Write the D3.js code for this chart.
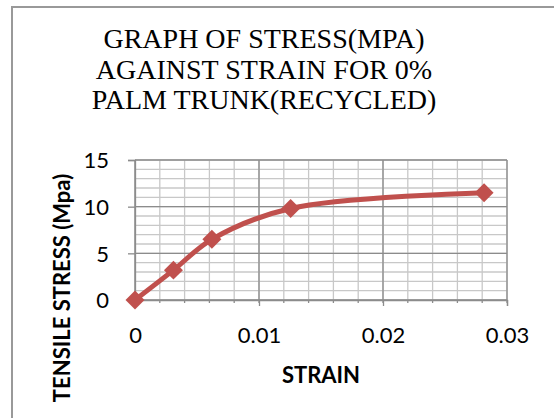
<!DOCTYPE html>
<html>
<head>
<meta charset="utf-8">
<script src="https://cdn.jsdelivr.net/npm/d3@7"></script>
<style>
  body { margin: 0; background: #fff; }
  svg { display: block; }
</style>
</head>
<body>
<svg width="554" height="418"></svg>
<script>
// values
const strain = [0, 0.0031, 0.0062, 0.01255, 0.02815];
const stress = [0, 3.2, 6.5, 9.8, 11.5];
const xTicks = [0, 0.01, 0.02, 0.03];
const yTicks = [0, 5, 10, 15];
const titleLines = ["GRAPH OF STRESS(MPA)", "AGAINST STRAIN FOR 0%", "PALM TRUNK(RECYCLED)"];

const svg = d3.select("svg");
const red = "#c0504d";

// outer chart border (runs off the right/bottom edge)
svg.append("rect")
    .attr("x", 12).attr("y", 7)
    .attr("width", 600).attr("height", 500)
    .attr("fill", "none")
    .attr("stroke", "#999")
    .attr("stroke-width", 2);

// title
svg.append("g").selectAll("text")
    .data(titleLines)
    .join("text")
    .attr("x", 264)
    .attr("y", (d, i) => 48 + i * 30.5)
    .attr("text-anchor", "middle")
    .style("font-family", "'Liberation Serif', 'Times New Roman', serif")
    .style("font-size", "28px")
    .attr("fill", "#000")
    .text(d => d);

// scales
const x = d3.scaleLinear().domain([0, 0.03]).range([135, 507]);
const y = d3.scaleLinear().domain([0, 15]).range([300, 160]);

// minor grid
const grid = svg.append("g");
grid.selectAll("line.vminor")
    .data(d3.range(0, 0.0301, 0.002))
    .join("line")
    .attr("x1", d => x(d)).attr("x2", d => x(d))
    .attr("y1", y(0)).attr("y2", y(15))
    .attr("stroke", "#c8c8c8").attr("stroke-width", 1.3);
grid.selectAll("line.hminor")
    .data(d3.range(0, 15.01, 1))
    .join("line")
    .attr("x1", x(0)).attr("x2", x(0.03))
    .attr("y1", d => y(d)).attr("y2", d => y(d))
    .attr("stroke", "#c8c8c8").attr("stroke-width", 1.3);

// major grid
grid.selectAll("line.vmajor")
    .data(xTicks)
    .join("line")
    .attr("x1", d => x(d)).attr("x2", d => x(d))
    .attr("y1", y(0)).attr("y2", y(15))
    .attr("stroke", "#8c8c8c").attr("stroke-width", 1.3);
grid.selectAll("line.hmajor")
    .data(yTicks)
    .join("line")
    .attr("x1", x(0)).attr("x2", x(0.03))
    .attr("y1", d => y(d)).attr("y2", d => y(d))
    .attr("stroke", "#8c8c8c").attr("stroke-width", 1.3);

// axes
const tickFont = "Lato, 'Open Sans', sans-serif";
const xAxis = svg.append("g")
    .attr("transform", `translate(0,${y(0)})`)
    .call(d3.axisBottom(x).tickValues(xTicks).tickSize(6).tickPadding(21).tickFormat(d3.format("")));
const yAxis = svg.append("g")
    .attr("transform", `translate(${x(0)},0)`)
    .call(d3.axisLeft(y).tickValues(yTicks).tickSize(7).tickPadding(19));
[xAxis, yAxis].forEach(a => {
  a.select(".domain").attr("stroke", "#8c8c8c").attr("stroke-width", 1.3);
  a.selectAll(".tick line").attr("stroke", "#8c8c8c").attr("stroke-width", 1.3);
  a.selectAll(".tick text")
      .style("font-family", tickFont)
      .style("font-size", "22px")
      .attr("fill", "#000");
});
xAxis.selectAll(".tick text").attr("dy", "0.71em");
yAxis.selectAll(".tick text").attr("dy", "0.36em");

// minor ticks on x axis
svg.append("g").selectAll("line")
    .data(d3.range(0, 0.0301, 0.002))
    .join("line")
    .attr("x1", d => x(d)).attr("x2", d => x(d))
    .attr("y1", y(0)).attr("y2", y(0) + 3)
    .attr("stroke", "#8c8c8c").attr("stroke-width", 1.3);

// axis titles
svg.append("text")
    .attr("x", 321).attr("y", 383)
    .attr("text-anchor", "middle")
    .style("font-family", tickFont)
    .style("font-size", "22px")
    .style("font-weight", "bold")
    .text("STRAIN");
svg.append("text")
    .attr("transform", "translate(70,288) rotate(-90)")
    .attr("text-anchor", "middle")
    .style("font-family", tickFont)
    .style("font-size", "22px")
    .style("font-weight", "bold")
    .text("TENSILE STRESS (Mpa)");

// series
const pts = strain.map((s, i) => [s, stress[i]]);
const line = d3.line()
    .x(d => x(d[0]))
    .y(d => y(d[1]))
    .curve(d3.curveCatmullRom.alpha(0.5));
svg.append("path")
    .datum(pts)
    .attr("d", line)
    .attr("fill", "none")
    .attr("stroke", red)
    .attr("stroke-width", 5)
    .attr("stroke-linejoin", "round");

svg.append("g").selectAll("path")
    .data(pts)
    .join("path")
    .attr("transform", d => `translate(${x(d[0])},${y(d[1])}) rotate(45)`)
    .attr("d", d3.symbol().type(d3.symbolSquare).size(180))
    .attr("fill", red);
</script>
</body>
</html>
